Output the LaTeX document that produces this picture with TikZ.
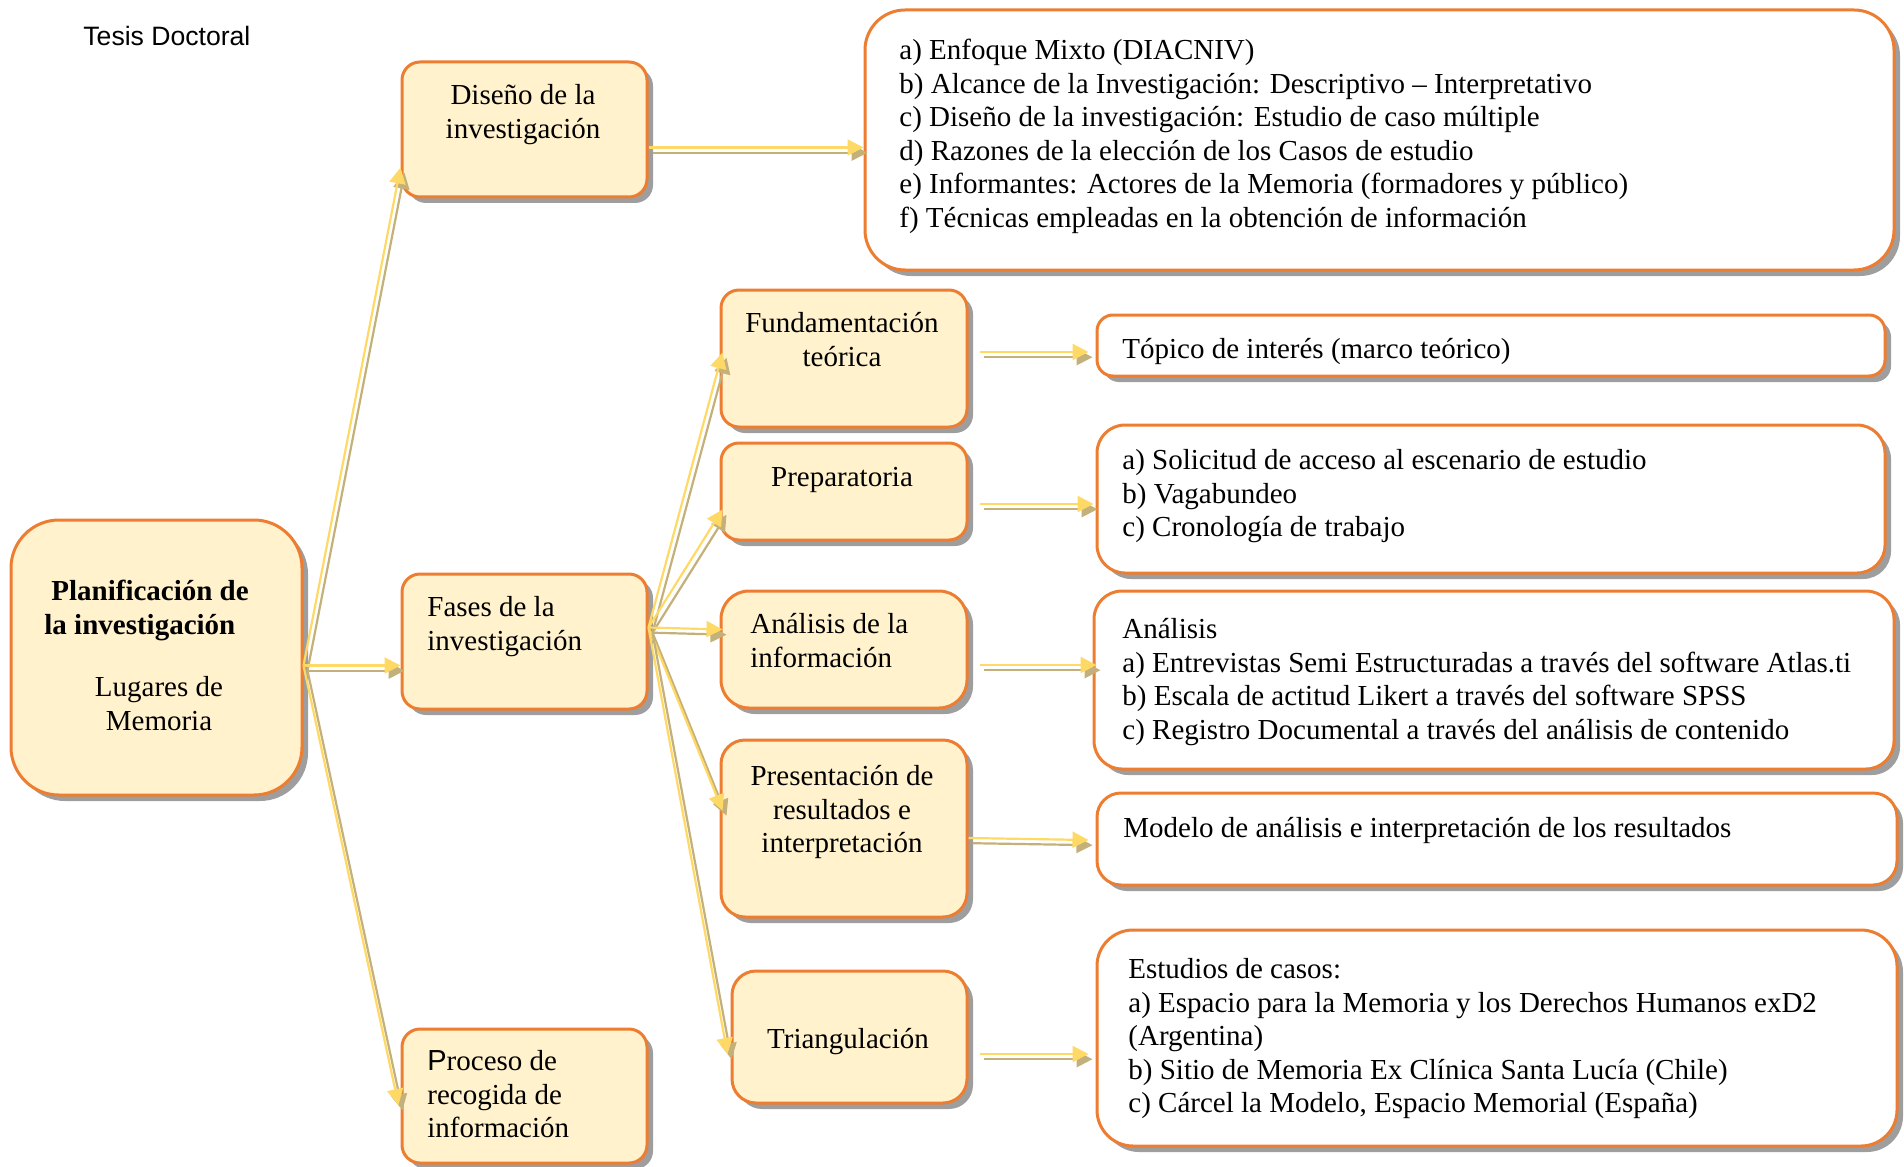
\documentclass[tikz,border=0pt]{standalone}
\usepackage{fontspec}
\setmainfont{Liberation Serif}
\setsansfont{Liberation Sans}
\usetikzlibrary{arrows.meta,shadows}

\definecolor{crema}{RGB}{255,242,204}
\definecolor{naranja}{RGB}{237,125,49}
\definecolor{amarillo}{RGB}{255,217,102}
\definecolor{ocre}{RGB}{196,176,122}

\newcommand{\letra}{\fontsize{14.5}{16.75}\selectfont}

\tikzset{
	caja/.style={draw=naranja, line width=1.5pt, fill=crema, rounded corners=9pt,
		drop shadow={shadow xshift=3pt, shadow yshift=-3pt, fill=black!38, opacity=1}},
	cajab/.style={caja, fill=white, rounded corners=14pt},
	texto/.style={inner sep=0pt, yshift=-1.25pt, font=\letra, execute at begin node=\strut},
	sombra/.style={draw=ocre, line width=1.1pt, transform canvas={shift={(2pt,-2.6pt)}},
		-{Triangle[length=8pt,width=8pt]}},
	flecha/.style={draw=amarillo, line width=1.1pt, -{Triangle[length=8pt,width=8pt]}}
}

% double arrow: shadow first, then yellow
\newcommand{\flechar}[2]{\draw[sombra] #1 -- #2; \draw[flecha] #1 -- #2;}

\begin{document}
\begin{tikzpicture}[x=0.5pt,y=-0.5pt]
	\useasboundingbox (0,0) rectangle (1904,1166);

	% Header
	\node[inner sep=0pt, anchor=west, font=\sffamily\fontsize{13.3}{15}\selectfont] (tesis) at (83,36) {Tesis Doctoral};

	% Main box
	\node[caja, rounded corners=24pt, minimum width=145.5pt, minimum height=137.5pt] (plan) at (156.5,657.5) {};
	\node[texto, anchor=north west, align=left, font=\letra\bfseries] (plan-txt) at (44,577.5) {\hspace*{3.5pt}Planificación de\\la investigación};
	\node[texto, anchor=north, align=center] (lugares) at (159,673.5) {Lugares de\\Memoria};

	% First level
	\node[caja, minimum width=122.5pt, minimum height=67.5pt] (disenio) at (524.5,129.5) {};
	\node[texto, anchor=north, align=center] (disenio-txt) at (523,81.5) {Diseño de la\\investigación};

	\node[caja, minimum width=122.5pt, minimum height=67.5pt] (fases) at (524.5,641.5) {};
	\node[texto, anchor=north west, align=left] (fases-txt) at (427,593.5) {Fases de la\\investigación};

	\node[caja, minimum width=122.5pt, minimum height=67pt] (proceso) at (524.5,1096) {};
	\node[texto, anchor=north west, align=left] (proceso-txt) at (427,1047.5) {{\sffamily P}roceso de\\recogida de\\información};

	% Phases
	\node[caja, minimum width=123pt, minimum height=68.5pt] (fund) at (844,358.5) {};
	\node[texto, anchor=north, align=center] (fund-txt) at (842,309.5) {Fundamentación\\teórica};

	\node[caja, minimum width=123pt, minimum height=48.5pt] (prep) at (844,491.5) {};
	\node[texto, anchor=north, align=center] (prep-txt) at (842,460.5) {Preparatoria};

	\node[caja, rounded corners=14pt, minimum width=123pt, minimum height=58.5pt] (analisis) at (844,649.5) {};
	\node[texto, anchor=north west, align=left] (analisis-txt) at (750,610.5) {Análisis de la\\información};

	\node[caja, rounded corners=12pt, minimum width=123pt, minimum height=88.5pt] (pres) at (844,828.5) {};
	\node[texto, anchor=north, align=center] (pres-txt) at (842,762.5) {Presentación de\\resultados e\\interpretación};

	\node[caja, rounded corners=12pt, minimum width=117.5pt, minimum height=66pt] (triang) at (849.5,1037) {};
	\node[texto, anchor=north, align=center] (triang-txt) at (848,1022.5) {Triangulación};

	% Content boxes
	\node[cajab, rounded corners=20pt, minimum width=514.5pt, minimum height=130pt] (grande) at (1379.5,140) {};
	\node[texto, anchor=north west, align=left] (grande-txt) at (899,36.5) {a) Enfoque Mixto (DIACNIV)\\b) Alcance de la Investigación: Descriptivo – Interpretativo\\c) Diseño de la investigación: Estudio de caso múltiple\\d) Razones de la elección de los Casos de estudio\\e) Informantes: Actores de la Memoria (formadores y público)\\f) Técnicas empleadas en la obtención de información};

	\node[cajab, rounded corners=8pt, minimum width=394pt, minimum height=30.5pt] (topico) at (1491,345.5) {};
	\node[texto, anchor=north west, align=left] (topico-txt) at (1122,332.5) {Tópico de interés (marco teórico)};

	\node[cajab, minimum width=394pt, minimum height=74pt] (solic) at (1491,499) {};
	\node[texto, anchor=north west, align=left] (solic-txt) at (1122,446.5) {a) Solicitud de acceso al escenario de estudio\\b) Vagabundeo\\c) Cronología de trabajo};

	\node[cajab, minimum width=400pt, minimum height=89pt] (analisisb) at (1494,680) {};
	\node[texto, anchor=north west, align=left] (analisisb-txt) at (1122,615.5) {Análisis\\a) Entrevistas Semi Estructuradas a través del software Atlas.ti\\b) Escala de actitud Likert a través del software SPSS\\c) Registro Documental a través del análisis de contenido};

	\node[cajab, rounded corners=12pt, minimum width=400pt, minimum height=46pt] (modelo) at (1497,839) {};
	\node[texto, anchor=north west, align=left] (modelo-txt) at (1123,811.5) {Modelo de análisis e interpretación de los resultados};

	\node[cajab, rounded corners=18pt, minimum width=400pt, minimum height=108pt] (estudios) at (1497,1038) {};
	\node[texto, anchor=north west, align=left] (estudios-txt) at (1128,955.5) {Estudios de casos:\\a) Espacio para la Memoria y los Derechos Humanos exD2\\(Argentina)\\b) Sitio de Memoria Ex Clínica Santa Lucía (Chile)\\c) Cárcel la Modelo, Espacio Memorial (España)};

	% Arrows from the main box
	\flechar{([yshift=-4pt]plan.east)}{([yshift=-19pt]disenio.west)}
	\flechar{([yshift=-4pt]plan.east)}{([yshift=-12pt]fases.west)}
	\flechar{([yshift=-4pt]plan.east)}{([xshift=-1pt,yshift=-4.5pt]proceso.west)}

	% Design
	\flechar{([yshift=-9pt]disenio.east)}{([yshift=-9pt]disenio.east -| grande.west)}

	% Arrows to the phases
	\flechar{([yshift=7pt]fases.east)}{([xshift=1.5pt,yshift=3pt]fund.west)}
	\flechar{([yshift=7pt]fases.east)}{([xshift=1.5pt,yshift=-9pt]prep.west)}
	\flechar{([yshift=7pt]fases.east)}{([xshift=1.5pt,yshift=10pt]analisis.west)}
	\flechar{([yshift=7pt]fases.east)}{([xshift=1.5pt,yshift=9pt]pres.west)}
	\flechar{([yshift=7pt]fases.east)}{([xshift=-1.5pt,yshift=-8.5pt]triang.west)}

	% Phases to contents
	\flechar{([xshift=5.5pt,yshift=3.25pt]fund.east)}{([xshift=-3.5pt,yshift=-3.25pt]topico.west)}
	\flechar{([xshift=5.5pt,yshift=-6.25pt]prep.east)}{([xshift=-1pt,yshift=-2.5pt]solic.west)}
	\flechar{([xshift=5.5pt,yshift=-7.75pt]analisis.east)}{([xshift=2pt,yshift=7.5pt]analisisb.west)}
	\flechar{([yshift=-4.75pt]pres.east)}{([xshift=-3.5pt,yshift=-0.5pt]modelo.west)}
	\flechar{([xshift=5.5pt,yshift=-8.5pt]triang.east)}{([xshift=-3.5pt,yshift=-8pt]estudios.west)}

\end{tikzpicture}
\end{document}
